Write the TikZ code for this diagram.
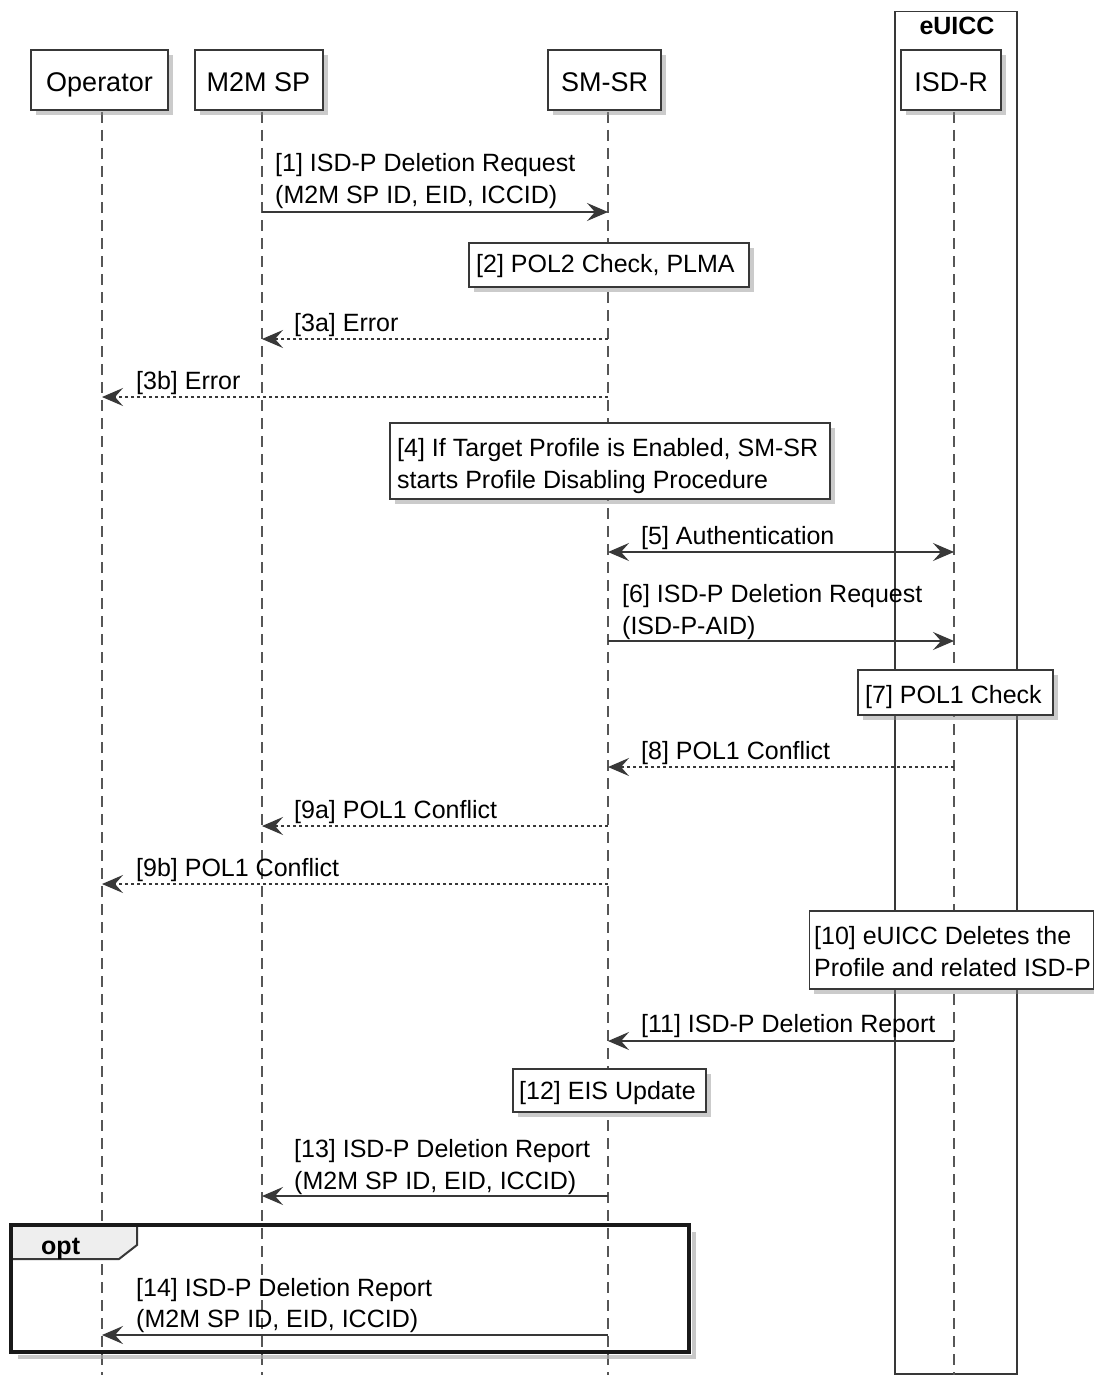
\documentclass[tikz,border=0pt]{standalone}
\usepackage{fontspec}
\setmainfont{Liberation Sans}
\usetikzlibrary{arrows.meta,shadows}
\definecolor{ln}{HTML}{383838}
\definecolor{tabfill}{HTML}{EEEEEE}
\tikzset{
  shad/.style={drop shadow={shadow xshift=5pt, shadow yshift=-5pt, fill=black!45, opacity=0.45}},
  part/.style={draw=ln, line width=2pt, fill=white, inner sep=0pt, text height=25pt, text depth=2pt, font=\fontsize{27}{32}\selectfont, shad},
  notebox/.style={draw=ln, line width=1.5pt, fill=white, inner sep=0pt, anchor=north west, shad},
  lbl/.style={anchor=base west, inner sep=0pt, font=\fontsize{25}{32}\selectfont},
  life/.style={draw=ln!85, line width=1.4pt, dash pattern=on 11pt off 7pt},
  tip/.tip={Stealth[length=21pt,width=18pt,inset=8pt]},
  msg/.style={draw=ln, line width=1.5pt, -tip},
  msgboth/.style={draw=ln, line width=1.5pt, tip-tip},
  rmsg/.style={msg, dash pattern=on 3pt off 3pt},
}
\begin{document}
\begin{tikzpicture}[x=1pt,y=-1pt]
\useasboundingbox[fill=white] (0,0) rectangle (1094,1375);

% lifeline anchors
\coordinate (opT) at (102,112);   \coordinate (opB) at (102,1375);
\coordinate (m2mT) at (262,112);  \coordinate (m2mB) at (262,1375);
\coordinate (smsrT) at (608,112); \coordinate (smsrB) at (608,1375);
\coordinate (isdrT) at (954,112); \coordinate (isdrB) at (954,1375);

% eUICC group box
\node[draw=ln, line width=1.5pt, minimum width=122pt, minimum height=1362pt, anchor=north west, inner sep=0pt] (euicc) at (894,11) {};
\node[anchor=base, inner sep=0pt, font=\fontsize{25}{32}\selectfont\bfseries] (euiccT) at (957,35) {eUICC};

% lifelines
\draw[life] (opT) -- (opB);
\draw[life] (m2mT) -- (m2mB);
\draw[life] (smsrT) -- (smsrB);
\draw[life] (isdrT) -- (isdrB);

% participants
\node[part, minimum width=137pt, minimum height=60pt] (op) at (99.5,80) {Operator};
\node[part, minimum width=128pt, minimum height=60pt] (m2m) at (258.5,80) {M2M SP};
\node[part, minimum width=113pt, minimum height=60pt] (smsr) at (604.5,80) {SM-SR};
\node[part, minimum width=100pt, minimum height=60pt] (isdr) at (951,80) {ISD-R};

% [1]
\node[lbl] (t1a) at (275,172) {[1] ISD-P Deletion Request};
\node[lbl] (t1b) at (275,204) {(M2M SP ID, EID, ICCID)};
\draw[msg] (m2mT |- 0,212) -- (smsrT |- 0,212);

% [2]
\node[notebox, minimum width=280pt, minimum height=44pt] (n2) at (468,242) {};
\node[lbl] (n2t) at (476,272) {[2] POL2 Check, PLMA};

% [3a]
\node[lbl] (t3a) at (294,331) {[3a] Error};
\draw[rmsg] (smsrT |- 0,339) -- (m2mT |- 0,339);

% [3b]
\node[lbl] (t3b) at (136,389) {[3b] Error};
\draw[rmsg] (smsrT |- 0,397) -- (opT |- 0,397);

% [4]
\node[notebox, minimum width=440pt, minimum height=76pt] (n4) at (389,422) {};
\node[lbl] (n4a) at (397,456) {[4] If Target Profile is Enabled, SM-SR};
\node[lbl] (n4b) at (397,488) {starts Profile Disabling Procedure};

% [5]
\node[lbl] (t5) at (641,544) {[5] Authentication};
\draw[msgboth] (smsrT |- 0,552) -- (isdrT |- 0,552);

% [6]
\node[lbl] (t6a) at (622,602) {[6] ISD-P Deletion Request};
\node[lbl] (t6b) at (622,634) {(ISD-P-AID)};
\draw[msg] (smsrT |- 0,641) -- (isdrT |- 0,641);

% [7]
\node[notebox, minimum width=195pt, minimum height=45pt] (n7) at (857,669) {};
\node[lbl] (n7t) at (865,703) {[7] POL1 Check};

% [8]
\node[lbl] (t8) at (641,759) {[8] POL1 Conflict};
\draw[rmsg] (isdrT |- 0,767) -- (smsrT |- 0,767);

% [9a]
\node[lbl] (t9a) at (294,818) {[9a] POL1 Conflict};
\draw[rmsg] (smsrT |- 0,826) -- (m2mT |- 0,826);

% [9b]
\node[lbl] (t9b) at (136,876) {[9b] POL1 Conflict};
\draw[rmsg] (smsrT |- 0,884) -- (opT |- 0,884);

% [10]
\node[notebox, minimum width=284pt, minimum height=78pt] (n10) at (808.5,910) {};
\node[lbl] (n10a) at (814,944) {[10] eUICC Deletes the};
\node[lbl] (n10b) at (814,976) {Profile and related ISD-P};

% [11]
\node[lbl] (t11) at (641,1032) {[11] ISD-P Deletion Report};
\draw[msg] (isdrT |- 0,1041) -- (smsrT |- 0,1041);

% [12]
\node[notebox, minimum width=193pt, minimum height=43pt] (n12) at (512,1068) {};
\node[lbl] (n12t) at (519,1099) {[12] EIS Update};

% [13]
\node[lbl] (t13a) at (294,1157) {[13] ISD-P Deletion Report};
\node[lbl] (t13b) at (294,1189) {(M2M SP ID, EID, ICCID)};
\draw[msg] (smsrT |- 0,1196) -- (m2mT |- 0,1196);

% opt frame
\draw[black!30, line width=4pt, opacity=0.7] (694,1232) -- (694,1357) -- (18,1357);
\draw[draw=ln, fill=tabfill, line width=2pt] (11,1225) -- (137,1225) -- (137,1245) -- (119,1259) -- (11,1259) -- cycle;
\node[anchor=base west, inner sep=0pt, font=\fontsize{25}{32}\selectfont\bfseries] (optT) at (41,1254) {opt};
\draw[draw=black!90, line width=3.5pt] (11,1225) rectangle (689,1352);

% [14]
\node[lbl] (t14a) at (136,1296) {[14] ISD-P Deletion Report};
\node[lbl] (t14b) at (136,1327) {(M2M SP ID, EID, ICCID)};
\draw[msg] (smsrT |- 0,1335) -- (opT |- 0,1335);
\end{tikzpicture}
\end{document}
